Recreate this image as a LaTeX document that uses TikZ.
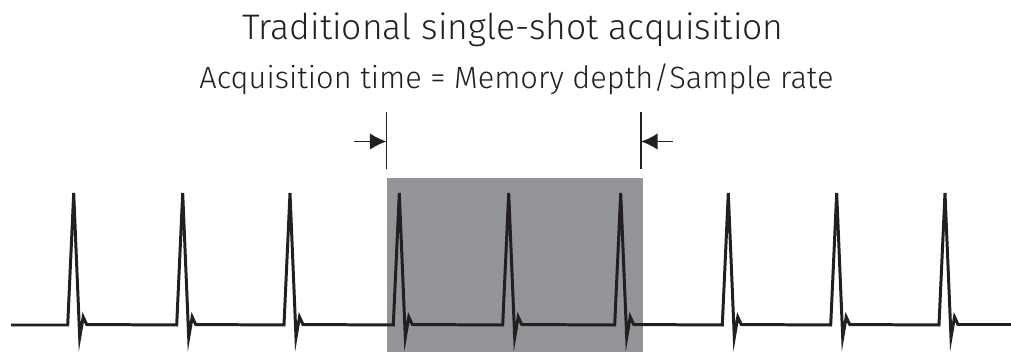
\documentclass[tikz,border=0pt]{standalone}
\usepackage{fontspec}
\setmainfont{Fira Sans}[UprightFont={* Light}]
\usetikzlibrary{arrows.meta}

\definecolor{inkblack}{HTML}{231F20}
\definecolor{shotgray}{HTML}{939598}

\tikzset{
  wave/.style={line width=1.7pt, draw=inkblack, line cap=butt},
  bar/.style={line width=1.1pt, draw=inkblack},
  dimarrow/.style={line width=1.1pt, draw=inkblack, -{Latex[length=9.5pt,width=9.5pt]}},
}

\begin{document}
\begin{tikzpicture}[scale=1.0]
\useasboundingbox (0,0) rectangle (20.22,-7.04);

% titles
\node[anchor=base, inner sep=0pt, text=inkblack] (title) at (10.26,-0.78) {\fontsize{20.2}{24}\selectfont Traditional single-shot acquisition};
\node[anchor=base, inner sep=0pt, text=inkblack] (formula) at (10.33,-1.76) {\fontsize{17.5}{21}\selectfont Acquisition time = Memory depth/Sample rate};

% acquired window
\fill[shotgray] (7.734,-3.554) rectangle (12.854,-7.04);

% markers
\coordinate (leftTop) at (7.73,-2.24);
\coordinate (leftBot) at (7.73,-3.38);
\coordinate (leftMid) at (7.73,-2.83);
\coordinate (rightTop) at (12.82,-2.24);
\coordinate (rightBot) at (12.82,-3.38);
\coordinate (rightMid) at (12.82,-2.83);
\coordinate (leftTail) at (7.08,-2.83);
\coordinate (rightTail) at (13.46,-2.83);
\draw[bar] (leftTop) -- (leftBot);
\draw[bar] (rightTop) -- (rightBot);
\draw[dimarrow] (leftTail) -- (leftMid);
\draw[dimarrow] (rightTail) -- (rightMid);

% pulse train
\draw[wave] (0.22,-6.5)
  \foreach \p in {1.474,3.654,5.8,7.986,10.174,12.414,14.566,16.734,18.9} {
    -- (\p-0.12,-6.5) -- (\p,-3.86) -- (\p+0.12,-6.75)
    -- (\p+0.19,-6.34) -- (\p+0.26,-6.49)
  }
  -- (20.22,-6.49);

\end{tikzpicture}
\end{document}
